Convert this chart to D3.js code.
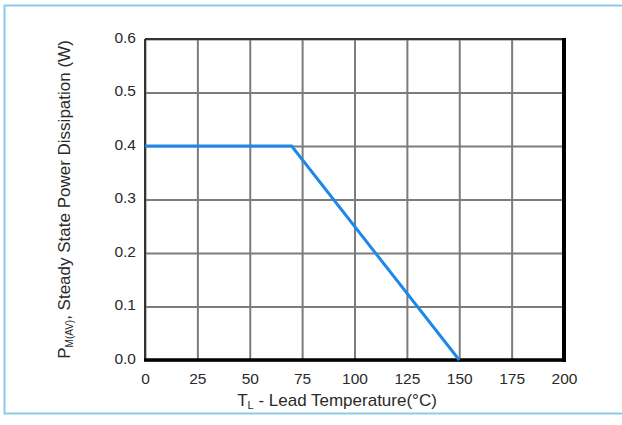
<!DOCTYPE html>
<html>
<head>
<meta charset="utf-8">
<script src="https://d3js.org/d3.v7.min.js"></script>
<style>
  body { margin: 0; background: #fff; }
  svg { display: block; font-family: "Liberation Sans", Arial, sans-serif; }
</style>
</head>
<body>
<svg id="chart"></svg>
<script>
const WIDTH = 622;
const HEIGHT = 425;

// Derating curve.
const tempC = [0, 70, 150];
const powerW = [0.4, 0.4, 0.0];
const xTicks = [0, 25, 50, 75, 100, 125, 150, 175, 200];
const yTicks = [0.0, 0.1, 0.2, 0.3, 0.4, 0.5, 0.6];

const margin = {top: 39, right: 58, bottom: 65, left: 145};

const svg = d3.select('#chart')
  .attr('width', WIDTH)
  .attr('height', HEIGHT);

// light blue frame round the figure
svg.append('rect')
  .attr('x', 4.5).attr('y', 5.5)
  .attr('width', WIDTH + 10).attr('height', 408)
  .attr('fill', 'none')
  .attr('stroke', '#8ccbe6')
  .attr('stroke-width', 2);

const x = d3.scaleLinear().domain([0, 200]).range([margin.left, WIDTH - margin.right]);
const y = d3.scaleLinear().domain([0, 0.6]).range([HEIGHT - margin.bottom, margin.top]);

const g = svg.append('g');

// grid
g.append('g')
  .attr('transform', `translate(0,${HEIGHT - margin.bottom})`)
  .call(d3.axisBottom(x).tickValues(xTicks).tickSize(-(y(0) - y(0.6))).tickFormat(''))
  .call(s => s.select('.domain').remove())
  .selectAll('line').attr('stroke', '#7c7c7c').attr('stroke-width', 2);

g.append('g')
  .attr('transform', `translate(${margin.left},0)`)
  .call(d3.axisLeft(y).tickValues(yTicks).tickSize(-(x(200) - x(0))).tickFormat(''))
  .call(s => s.select('.domain').remove())
  .selectAll('line').attr('stroke', '#7c7c7c').attr('stroke-width', 2);

// plot border: thin top/left, heavy right/bottom
g.append('line').attr('x1', x(0)).attr('x2', x(200)).attr('y1', y(0.6)).attr('y2', y(0.6))
  .attr('stroke', '#333').attr('stroke-width', 2);
g.append('line').attr('x1', x(0)).attr('x2', x(0)).attr('y1', y(0.6)).attr('y2', y(0))
  .attr('stroke', '#333').attr('stroke-width', 2);
g.append('line').attr('x1', x(200)).attr('x2', x(200)).attr('y1', y(0.6) - 1).attr('y2', y(0) + 2)
  .attr('stroke', '#000').attr('stroke-width', 4);
g.append('line').attr('x1', x(0) - 1).attr('x2', x(200) + 2).attr('y1', y(0)).attr('y2', y(0))
  .attr('stroke', '#000').attr('stroke-width', 3.5);

// tick labels
const xAxis = g.append('g')
  .attr('transform', `translate(0,${HEIGHT - margin.bottom})`)
  .call(d3.axisBottom(x).tickValues(xTicks).tickSize(0).tickPadding(13));
xAxis.select('.domain').remove();
xAxis.selectAll('text').attr('font-size', 15.5).attr('fill', '#2a2a2a')
  .attr('font-family', '"Liberation Sans", Arial, sans-serif');

const yAxis = g.append('g')
  .attr('transform', `translate(${margin.left},0)`)
  .call(d3.axisLeft(y).tickValues(yTicks).tickSize(0).tickPadding(9).tickFormat(d3.format('.1f')));
yAxis.select('.domain').remove();
yAxis.selectAll('text').attr('font-size', 15.5).attr('fill', '#2a2a2a')
  .attr('font-family', '"Liberation Sans", Arial, sans-serif')
  .attr('dy', '0.2em');

// the curve
const line = d3.line().x((d, i) => x(tempC[i])).y(d => y(d));
g.append('path')
  .datum(powerW)
  .attr('d', line)
  .attr('fill', 'none')
  .attr('stroke', '#1e88e8')
  .attr('stroke-width', 3);

// axis titles
const xt = svg.append('text')
  .attr('x', 337)
  .attr('y', 406)
  .attr('text-anchor', 'middle')
  .attr('font-size', 17)
  .attr('fill', '#2a2a2a');
xt.append('tspan').text('T');
xt.append('tspan').text('L').attr('font-size', 11).attr('dy', 3);
xt.append('tspan').text(' - Lead Temperature(°C)').attr('dy', -3);

const yt = svg.append('text')
  .attr('transform', `translate(70,${(y(0) + y(0.6)) / 2}) rotate(-90)`)
  .attr('text-anchor', 'middle')
  .attr('font-size', 17)
  .attr('fill', '#2a2a2a');
yt.append('tspan').text('P');
yt.append('tspan').text('M(AV)').attr('font-size', 10).attr('dy', 3);
yt.append('tspan').text(', Steady State Power Dissipation (W)').attr('dy', -3);
</script>
</body>
</html>
